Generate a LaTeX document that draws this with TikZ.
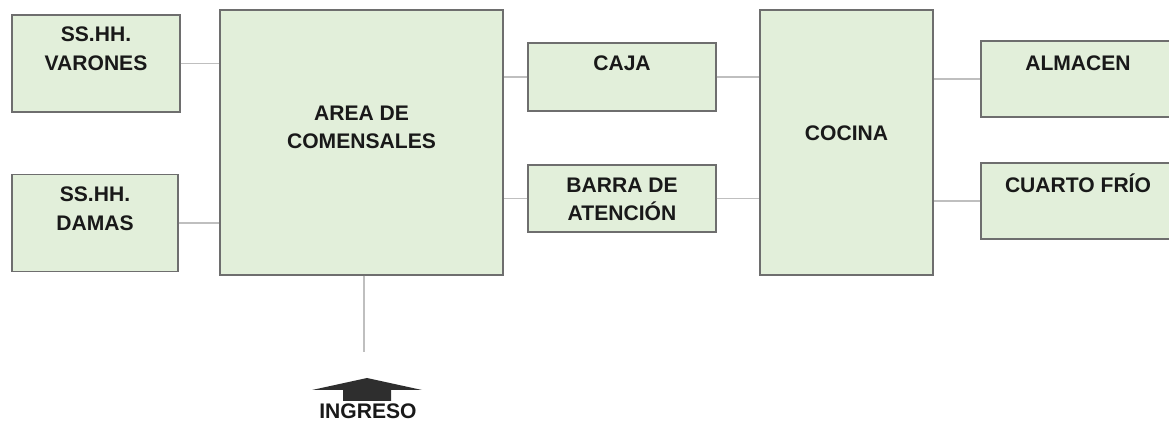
\documentclass[tikz,border=0pt]{standalone}
\usepackage{fontspec}
\setmainfont{Liberation Sans}
\usetikzlibrary{positioning}
\definecolor{roomfill}{HTML}{E2EFDA}
\definecolor{roomline}{HTML}{6E6E6E}
\definecolor{linkline}{HTML}{BFBFBF}
\definecolor{arrowfill}{HTML}{2E2E2E}
\begin{document}
\begin{tikzpicture}[x=0.02cm,y=-0.02cm,
 font=\fontsize{12}{16.4}\selectfont\bfseries,
 room/.style={draw=roomline,fill=roomfill,line width=0.85pt,inner sep=0pt},
 title/.style={anchor=north,inner sep=0pt,align=center,text=black!90},
 link/.style={draw=linkline,line width=0.7pt}]
\useasboundingbox (0,0) rectangle (1169,431);
% rooms
\node[room,minimum width=3.36cm,minimum height=1.94cm,
 label={[title,yshift=-0.25cm]north:SS.HH.\\VARONES}] (varones) at (96,63.5) {};
\node[room,minimum width=3.32cm,minimum height=1.94cm,
 label={[title,yshift=-0.25cm]north:SS.HH.\\DAMAS}] (damas) at (95,223) {};
\node[room,minimum width=5.66cm,minimum height=5.3cm,
 label={[title,yshift=-1.92cm]north:AREA DE\\COMENSALES}] (area) at (361.5,142.5) {};
\node[room,minimum width=3.76cm,minimum height=1.36cm,
 label={[title,yshift=-0.26cm]north:CAJA}] (caja) at (622,77) {};
\node[room,minimum width=3.76cm,minimum height=1.34cm,
 label={[title,yshift=-0.26cm]north:BARRA DE\\ATENCIÓN}] (barra) at (622,198.5) {};
\node[room,minimum width=3.46cm,minimum height=5.3cm,
 label={[title,yshift=-2.32cm]north:COCINA}] (cocina) at (846.5,142.5) {};
\node[room,minimum width=3.88cm,minimum height=1.52cm,
 label={[title,yshift=-0.3cm]north:ALMACEN}] (almacen) at (1078,79) {};
\node[room,minimum width=3.88cm,minimum height=1.52cm,
 label={[title,yshift=-0.22cm]north:CUARTO FRÍO}] (cuarto) at (1078,201) {};
% links
\draw[link] (varones.east) -- (varones.east -| area.west);
\draw[link] (damas.east) -- (damas.east -| area.west);
\draw[link] (caja.west) -- (caja.west -| area.east);
\draw[link] (barra.west) -- (barra.west -| area.east);
\draw[link] (caja.east) -- (caja.east -| cocina.west);
\draw[link] (barra.east) -- (barra.east -| cocina.west);
\draw[link] (almacen.west) -- (almacen.west -| cocina.east);
\draw[link] (cuarto.west) -- (cuarto.west -| cocina.east);
% entrance
\coordinate (door) at (364,352);
\draw[link] (area.south -| door) -- (door);
\fill[arrowfill] (312,390) -- (367,378) -- (422,390) -- (391,390)
 -- (391,401) -- (343,401) -- (343,390) -- cycle;
\node[title] (ingreso) at (368,403) {INGRESO};
\end{tikzpicture}
\end{document}
